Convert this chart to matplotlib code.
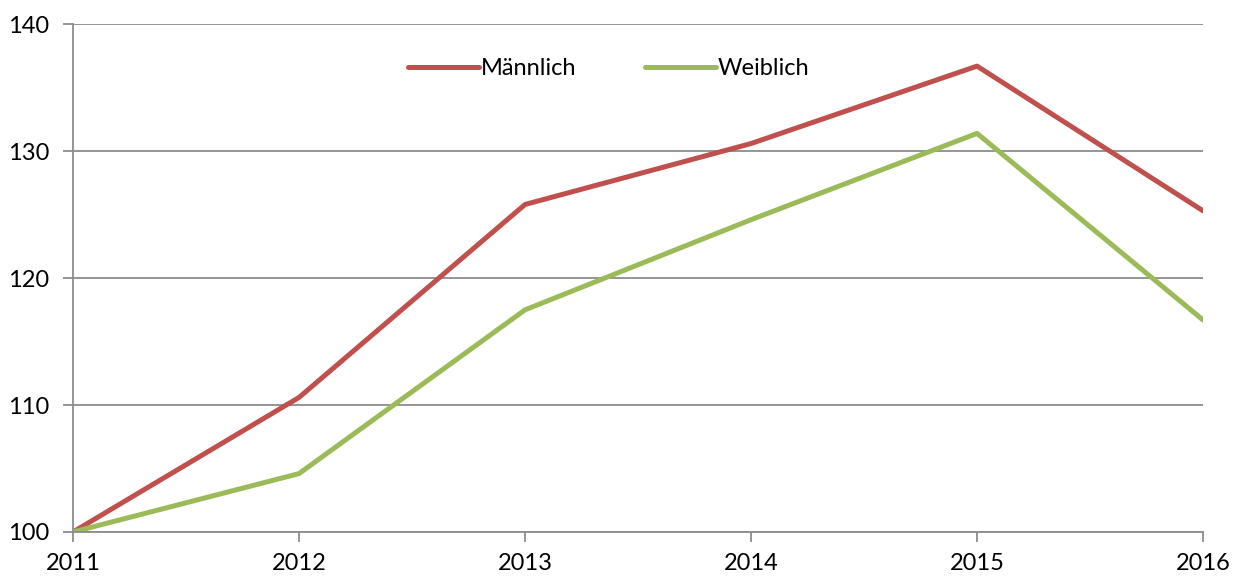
import matplotlib.pyplot as plt

years = [2011, 2012, 2013, 2014, 2015, 2016]
maennlich = [100, 110.6, 125.8, 130.6, 136.7, 125.3]
weiblich = [100, 104.6, 117.5, 124.6, 131.4, 116.7]
yticks = [100, 110, 120, 130, 140]

plt.rcParams['font.family'] = ['Lato', 'DejaVu Sans']

fig = plt.figure(figsize=(12.4, 5.78), dpi=100)
ax = fig.add_axes([0.0589, 0.0796, 0.9113, 0.8785])

ax.plot(years, maennlich, color='#C0504D', lw=3.6, label='Männlich', solid_capstyle='round')
ax.plot(years, weiblich, color='#9BBB59', lw=3.6, label='Weiblich', solid_capstyle='round')

ax.set_xlim(years[0], years[-1])
ax.set_ylim(100, 140)
ax.set_xticks(years)
ax.set_yticks(yticks)
ax.grid(axis='y', color='#8c8c8c', lw=1.3)
ax.set_axisbelow(True)

for s in ['top', 'right']:
    ax.spines[s].set_visible(False)
for s in ['left', 'bottom']:
    ax.spines[s].set_color('#8c8c8c')
    ax.spines[s].set_linewidth(1.3)

ax.tick_params(axis='both', colors='#8c8c8c', length=7, width=1.3, labelsize=17, labelcolor='black')
ax.tick_params(axis='x', pad=8)
ax.tick_params(axis='y', pad=10)

ax.legend(loc='center', bbox_to_anchor=(0.474, 0.913), ncol=2, frameon=False,
          fontsize=17, handlelength=3.0, handletextpad=0.1, columnspacing=2.9)

fig.savefig('out.png', dpi=100)
